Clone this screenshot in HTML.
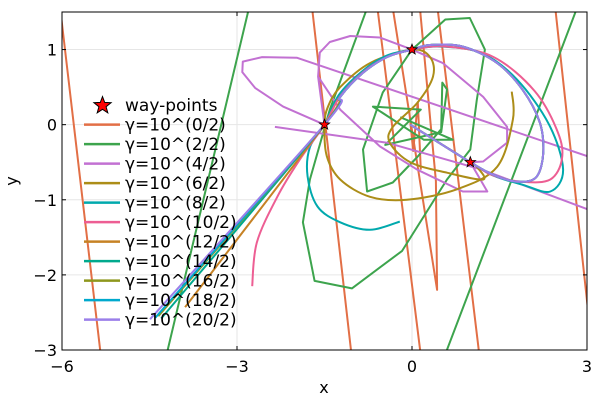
<!DOCTYPE html>
<html><head><meta charset="utf-8"><style>
html,body{margin:0;background:#fff;width:600px;height:400px;overflow:hidden}
svg{display:block;font-family:"DejaVu Sans","Liberation Sans",sans-serif}
</style></head><body>
<svg id="c" width="600" height="400" viewBox="0 0 600 400"></svg>
<script>
const xTicks=[-6,-3,0,3];
const yTicks=[1,0,-1,-2,-3];
const xTickLabels=["−6","−3","0","3"];
const yTickLabels=["1","0","−1","−2","−3"];
const wayX=[-1.5,0,1];
const wayY=[0,1,-0.5];
const seriesNames=["γ=10^(0/2)","γ=10^(2/2)","γ=10^(4/2)","γ=10^(6/2)","γ=10^(8/2)","γ=10^(10/2)","γ=10^(12/2)","γ=10^(14/2)","γ=10^(16/2)","γ=10^(18/2)","γ=10^(20/2)"];
const seriesColors=["#e26f46","#3da44d","#c271d2","#ac8d18","#00a9ad","#ed5e93","#c68225","#00a98d","#8e971d","#00a9cd","#9b7fe9"];
const seriesSmooth=[false,false,false,true,true,true,true,true,true,true,true];
const mainTail=[[-1.23,0.37],[-0.84,0.69],[-0.43,0.9],[0,1],[0.31,1.06],[0.87,1.04],[1.46,0.82],[1.9,0.46],[2.19,0.03],[2.25,-0.37],[2.14,-0.69],[1.85,-0.76],[1.46,-0.69],[1,-0.5],[-0.03,0]];
const s0=[[-6.1,2],[-5.3,-3.3],null,[-1.72,1.6],[-0.9,-4],null,[-0.6,1.6],[0.3,-4],null,[-0.34,1.6],[0.43,-2.2],[0.41,-0.75],[0.13,1.6],null,[0.43,1.6],[1.3,-4],null,[2.45,1.6],[3.05,-2.7],null,[-0.05,0.2],[0.02,-0.35],[0.1,0.3],[0.15,-0.6]];
const s1=[[-2.75,1.7],[-4.25,-3.2],null,[-0.7,1.7],[-1.41,0.2],[-1.75,-0.73],[-1.87,-1.3],[-1.67,-2.08],[-1.03,-2.18],[-0.17,-1.68],[0.6,-0.73],[1.0,-0.33],[1.11,0.33],[1.25,1.0],[0.99,1.42],[0.57,1.4],[0,1],[-0.5,0.43],[-0.84,-0.33],[-0.77,-0.89],[-0.33,-0.77],[0.09,-0.43],[0.5,-0.06],[0.52,0.56],[0.6,0.47],[0.5,-0.1],[-0.46,-0.27],[0.15,0.2],[-0.67,0.24],[0.2,-0.2],[0.7,-0.2],[-0.2,0.1]];
const s1b=[[2.9,1.7],[0.5,-3.2]];
const s2=[[-2.35,-0.03],[-0.43,-0.24],[1.2,-0.6],[3.02,-1.13],null,[3.05,-0.43],[-1.97,0.89],[-2.57,0.9],[-2.9,0.84],[-2.91,0.7],[-2.69,0.49],[-2.21,0.24],[-1.5,0],[-1.61,0.64],[-1.58,0.96],[-1.41,1.1],[-1.06,1.18],[-0.55,1.16],[0,1],[0.53,0.82],[1.22,0.37],[1.63,-0.03],[1.63,-0.24],[1.22,-0.49],[1,-0.5],[1.29,-0.89],[0.87,-0.89],[0.09,-0.6],[-0.55,-0.29],[-1.23,0.2],[-1.61,0.64]];
const s3=[[1.71,0.44],[1.73,0.07],[1.46,-0.56],[0.77,-0.86],[-0.09,-1.0],[-0.72,-0.96],[-1.23,-0.73],[-1.46,-0.42],[-1.5,0],[-1.44,0.24],[-1.23,0.5],[-0.72,0.82],[0,1],[0.31,0.9],[0.36,0.64],[0.09,0.29],[-0.33,-0.03],[-0.38,-0.24],[-0.03,-0.5],[0.6,-0.64],[1.22,-0.73],[1.1,-0.55],[1,-0.5]];
const s4=[[-0.21,-1.29],[-0.72,-1.4],[-1.23,-1.3],[-1.62,-1.09],[-1.79,-0.69],[-1.75,-0.3],[-1.5,0],[-1.25,0.4],[-0.84,0.72],[-0.43,0.92],[0,1],[0.5,1.04],[1.2,0.95],[1.8,0.6],[2.35,0.0],[2.59,-0.6],[2.37,-0.89],[1.9,-0.8],[1.4,-0.68],[1,-0.5],[-0.03,0]];
const s5=[[-2.74,-2.15],[-2.66,-1.57],[-2.31,-0.96],[-1.92,-0.46],[-1.5,0],[-1.23,0.38],[-0.84,0.7],[-0.43,0.9],[0,1],[0.6,1.04],[1.4,0.9],[2.1,0.45],[2.5,-0.1],[2.57,-0.46],[2.37,-0.73],[1.9,-0.76],[1.4,-0.68],[1,-0.5],[-0.03,0]];
const s6=[[-3.89,-2.43],[-1.5,0]].concat(mainTail);
const s7=[[-4.3,-2.58],[-1.5,0]].concat(mainTail);
const s8=[[-4.35,-2.55],[-1.5,0]].concat(mainTail);
const s9=[[-4.4,-2.57],[-1.5,0]].concat(mainTail);
const s10=[[-4.49,-2.59],[-1.5,0]].concat(mainTail);
const seriesData=[[s0],[s1,s1b],[s2],[s3],[s4],[s5],[s6],[s7],[s8],[s9],[s10]];

const L=62,R=587,T=12,B=350,x0=-6,x1=3,y0=-3,y1=1.5;
const sx=v=>L+(v-x0)/(x1-x0)*(R-L);
const sy=v=>B-(v-y0)/(y1-y0)*(B-T);
const svg=document.getElementById('c');
const NS='http://www.w3.org/2000/svg';
function mk(tag,attrs,parent){const e=document.createElementNS(NS,tag);for(const k in attrs)e.setAttribute(k,attrs[k]);(parent||svg).appendChild(e);return e;}
const defs=mk('defs',{});
const cp=mk('clipPath',{id:'clip'},defs);mk('rect',{x:L,y:T,width:R-L,height:B-T},cp);
const grid=mk('g',{stroke:'#e6e6e6','stroke-width':1});


xTicks.forEach(v=>mk('line',{x1:sx(v),x2:sx(v),y1:T,y2:B},grid));
yTicks.forEach(v=>mk('line',{x1:L,x2:R,y1:sy(v),y2:sy(v)},grid));
const plot=mk('g',{'clip-path':'url(#clip)',fill:'none','stroke-width':2,'stroke-linejoin':'round'});


function runs(arr){const out=[];let cur=[];arr.forEach(p=>{if(!p){if(cur.length)out.push(cur);cur=[];}else cur.push([sx(p[0]),sy(p[1])]);});if(cur.length)out.push(cur);return out;}
function smoothPath(P){let d='M'+P[0][0].toFixed(1)+' '+P[0][1].toFixed(1);for(let i=0;i<P.length-1;i++){const p0=P[Math.max(0,i-1)],p1=P[i],p2=P[i+1],p3=P[Math.min(P.length-1,i+2)];const c1=[p1[0]+(p2[0]-p0[0])/6,p1[1]+(p2[1]-p0[1])/6],c2=[p2[0]-(p3[0]-p1[0])/6,p2[1]-(p3[1]-p1[1])/6];d+='C'+c1[0].toFixed(1)+' '+c1[1].toFixed(1)+' '+c2[0].toFixed(1)+' '+c2[1].toFixed(1)+' '+p2[0].toFixed(1)+' '+p2[1].toFixed(1);}return d;}
seriesData.forEach((segs,i)=>{
  let d='';
  segs.forEach(arr=>{runs(arr).forEach(P=>{
    if(seriesSmooth[i]) d+=smoothPath(P);
    else P.forEach((q,k)=>{d+=(k?'L':'M')+q[0].toFixed(1)+' '+q[1].toFixed(1);});
  });});
  const path=mk('path',{d:d,stroke:seriesColors[i]},plot);
  
  
});
function star(cx,cy,r){let pts=[];for(let k=0;k<10;k++){const a=-Math.PI/2+k*Math.PI/5;const rr=k%2?r*0.42:r;pts.push((cx+rr*Math.cos(a)).toFixed(1)+','+(cy+rr*Math.sin(a)).toFixed(1));}return pts.join(' ');}
wayX.forEach((v,i)=>{
  const s=mk('polygon',{points:star(sx(v),sy(wayY[i]),5.5),fill:'#ff0000',stroke:'#000','stroke-width':0.8});
  
  
});
const frame=mk('rect',{x:L,y:T,width:R-L,height:B-T,fill:'none',stroke:'#000','stroke-width':1});


xTicks.forEach((v,i)=>{
  mk('line',{x1:sx(v),x2:sx(v),y1:B,y2:B-4,stroke:'#000'});mk('line',{x1:sx(v),x2:sx(v),y1:T,y2:T+4,stroke:'#000'});
  const t=mk('text',{x:sx(v),y:B+22,'text-anchor':'middle','font-size':16});t.textContent=xTickLabels[i];
  
  
});
yTicks.forEach((v,i)=>{
  mk('line',{x1:L,x2:L+4,y1:sy(v),y2:sy(v),stroke:'#000'});mk('line',{x1:R,x2:R-4,y1:sy(v),y2:sy(v),stroke:'#000'});
  const t=mk('text',{x:L-5,y:sy(v)+6,'text-anchor':'end','font-size':16});t.textContent=yTickLabels[i];
  
  
});
const xl=mk('text',{x:324,y:393,'text-anchor':'middle','font-size':16});xl.textContent='x';


const yl=mk('text',{x:17,y:181,'text-anchor':'middle','font-size':16,transform:'rotate(-90 17 181)'});yl.textContent='y';


const leg=mk('g',{'font-size':17});


const ls=mk('polygon',{points:star(102.5,105.5,9),fill:'#ff0000',stroke:'#000','stroke-width':1},leg);


const lt=mk('text',{x:125,y:111},leg);lt.textContent='way-points';


seriesNames.forEach((n,i)=>{
  const y=124.6+i*19.5;
  const ln=mk('line',{x1:84,x2:120,y1:y,y2:y,stroke:seriesColors[i],'stroke-width':2.5},leg);
  
  
  const t=mk('text',{x:125,y:y+6},leg);t.textContent=n;
  
  
});
</script>
</body></html>
